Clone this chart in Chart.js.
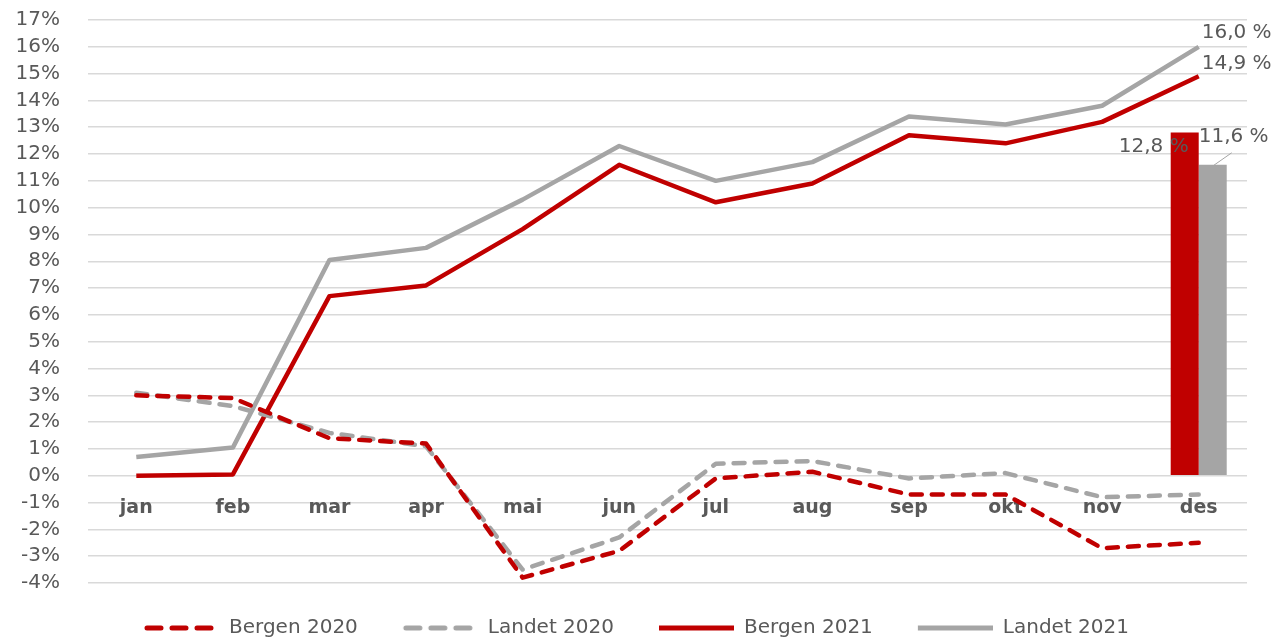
<!DOCTYPE html>
<html>
<head>
<meta charset="utf-8">
<script src="https://cdn.jsdelivr.net/npm/chart.js@4/dist/chart.umd.min.js"></script>
<style>
  html, body { margin: 0; padding: 0; background: #fff; }
  #wrap { width: 1276px; height: 642px; }
</style>
</head>
<body>
<div id="wrap"><canvas id="chart" width="1276" height="642"></canvas></div>
<script>
// months and series (percent change)
const months = ['jan', 'feb', 'mar', 'apr', 'mai', 'jun', 'jul', 'aug', 'sep', 'okt', 'nov', 'des'];
const bergen2020 = [3.0, 2.9, 1.4, 1.2, -3.8, -2.8, -0.1, 0.15, -0.7, -0.7, -2.7, -2.5];
const landet2020 = [3.1, 2.6, 1.6, 1.1, -3.5, -2.3, 0.45, 0.55, -0.1, 0.1, -0.8, -0.7];
const bergen2021 = [0.0, 0.05, 6.7, 7.1, 9.2, 11.6, 10.2, 10.9, 12.7, 12.4, 13.2, 14.9];
const landet2021 = [0.7, 1.05, 8.05, 8.5, 10.3, 12.3, 11.0, 11.7, 13.4, 13.1, 13.8, 16.0];
// december bars
const bergenDes = 12.8;
const landetDes = 11.6;
const yMin = -4, yMax = 17;

const RED = '#C00000';
const GREY = '#A5A5A5';
const TEXT = '#595959';
const FONT = 'DejaVu Sans';

function lastOnly(v) {
    return months.map((m, i) => i === months.length - 1 ? v : null);
}

function fmt(v) {
    return v.toFixed(1).replace('.', ',') + ' %';
}

// legend swatch: blank lead-in, then the line sample
function swatch(color, dash) {
    const dashed = dash && dash.length > 0;
    const c = document.createElement('canvas');
    c.width = 85;
    c.height = 10;
    const g = c.getContext('2d');
    g.strokeStyle = color;
    g.lineWidth = 5;
    g.lineCap = dashed ? 'round' : 'butt';
    g.setLineDash(dashed ? [14, 11] : []);
    g.beginPath();
    g.moveTo(dashed ? 13 : 10, 5);
    g.lineTo(dashed ? 82 : 85, 5);
    g.stroke();
    return c;
}

const valueLabels = {
    id: 'valueLabels',
    afterDatasetsDraw(chart) {
        const ctx = chart.ctx;
        const last = months.length - 1;
        ctx.save();
        ctx.font = '20px "' + FONT + '"';
        ctx.fillStyle = TEXT;
        ctx.textBaseline = 'middle';

        // line end labels
        const pL = chart.getDatasetMeta(3).data[last];
        const pB = chart.getDatasetMeta(2).data[last];
        ctx.textAlign = 'left';
        ctx.fillText(fmt(landet2021[last]), pL.x + 3, pL.y - 14);
        ctx.fillText(fmt(bergen2021[last]), pB.x + 3, pB.y - 13);

        // bar labels
        const bB = chart.getDatasetMeta(4).data[last];
        const bL = chart.getDatasetMeta(5).data[last];
        ctx.textAlign = 'right';
        ctx.fillText(fmt(bergenDes), bB.x + 4, bB.y + 14);
        ctx.textAlign = 'left';
        ctx.fillText(fmt(landetDes), bL.x - 14, bL.y - 28);

        // leader line
        ctx.strokeStyle = GREY;
        ctx.lineWidth = 1;
        ctx.beginPath();
        ctx.moveTo(bL.x + 19, bL.y - 12);
        ctx.lineTo(bL.x - 1, bL.y + 2);
        ctx.stroke();
        ctx.restore();
    }
};

function lineSet(label, data, color, dashed) {
    return {
        type: 'line',
        label: label,
        data: data,
        borderColor: color,
        backgroundColor: color,
        borderWidth: 4.5,
        borderDash: dashed ? [11, 10] : [],
        borderCapStyle: dashed ? 'round' : 'butt',
        borderJoinStyle: 'round',
        pointRadius: 0,
        tension: 0,
        fill: false
    };
}

new Chart(document.getElementById('chart'), {
    data: {
        labels: months,
        datasets: [
            lineSet('Bergen 2020', bergen2020, RED, true),
            lineSet('Landet 2020', landet2020, GREY, true),
            lineSet('Bergen 2021', bergen2021, RED, false),
            lineSet('Landet 2021', landet2021, GREY, false),
            {
                type: 'bar',
                label: 'Bergen des',
                data: lastOnly(bergenDes),
                backgroundColor: RED,
                barPercentage: 1,
                categoryPercentage: 0.58
            },
            {
                type: 'bar',
                label: 'Landet des',
                data: lastOnly(landetDes),
                backgroundColor: GREY,
                barPercentage: 1,
                categoryPercentage: 0.58
            }
        ]
    },
    options: {
        responsive: false,
        animation: false,
        layout: {
            padding: { top: 20, left: 16, right: 29, bottom: 0 }
        },
        scales: {
            x: {
                position: { y: 0 },
                offset: true,
                grid: { display: false },
                border: { display: false },
                ticks: {
                    color: TEXT,
                    font: { family: FONT, size: 19, weight: 'bold' },
                    padding: 13,
                    maxRotation: 0,
                    autoSkip: false
                },
                afterFit(s) {
                    // axis sits on the zero line, so it takes no room
                    s.height = 0;
                    s.paddingLeft = s.paddingRight = s.paddingTop = s.paddingBottom = 0;
                }
            },
            y: {
                min: yMin,
                max: yMax,
                grid: {
                    color: '#d9d9d9',
                    lineWidth: 1.5,
                    drawTicks: false
                },
                border: { display: false },
                ticks: {
                    stepSize: 1,
                    autoSkip: false,
                    color: TEXT,
                    font: { family: FONT, size: 20 },
                    padding: 28,
                    callback: v => v + '%'
                },
                afterFit(s) {
                    s.width = 72;
                    s.paddingTop = s.paddingBottom = 0;
                }
            }
        },
        plugins: {
            tooltip: { enabled: false },
            legend: {
                position: 'bottom',
                maxHeight: 59,
                labels: {
                    color: TEXT,
                    font: { family: FONT, size: 20 },
                    usePointStyle: true,
                    pointStyleWidth: 85,
                    padding: 35,
                    generateLabels(chart) {
                        const items = Chart.defaults.plugins.legend.labels.generateLabels(chart);
                        return items
                            .filter(it => it.datasetIndex < 4)
                            .map(it => {
                                const ds = chart.data.datasets[it.datasetIndex];
                                it.pointStyle = swatch(ds.borderColor, ds.borderDash);
                                return it;
                            });
                    }
                }
            }
        }
    },
    plugins: [valueLabels]
});
</script>
</body>
</html>
